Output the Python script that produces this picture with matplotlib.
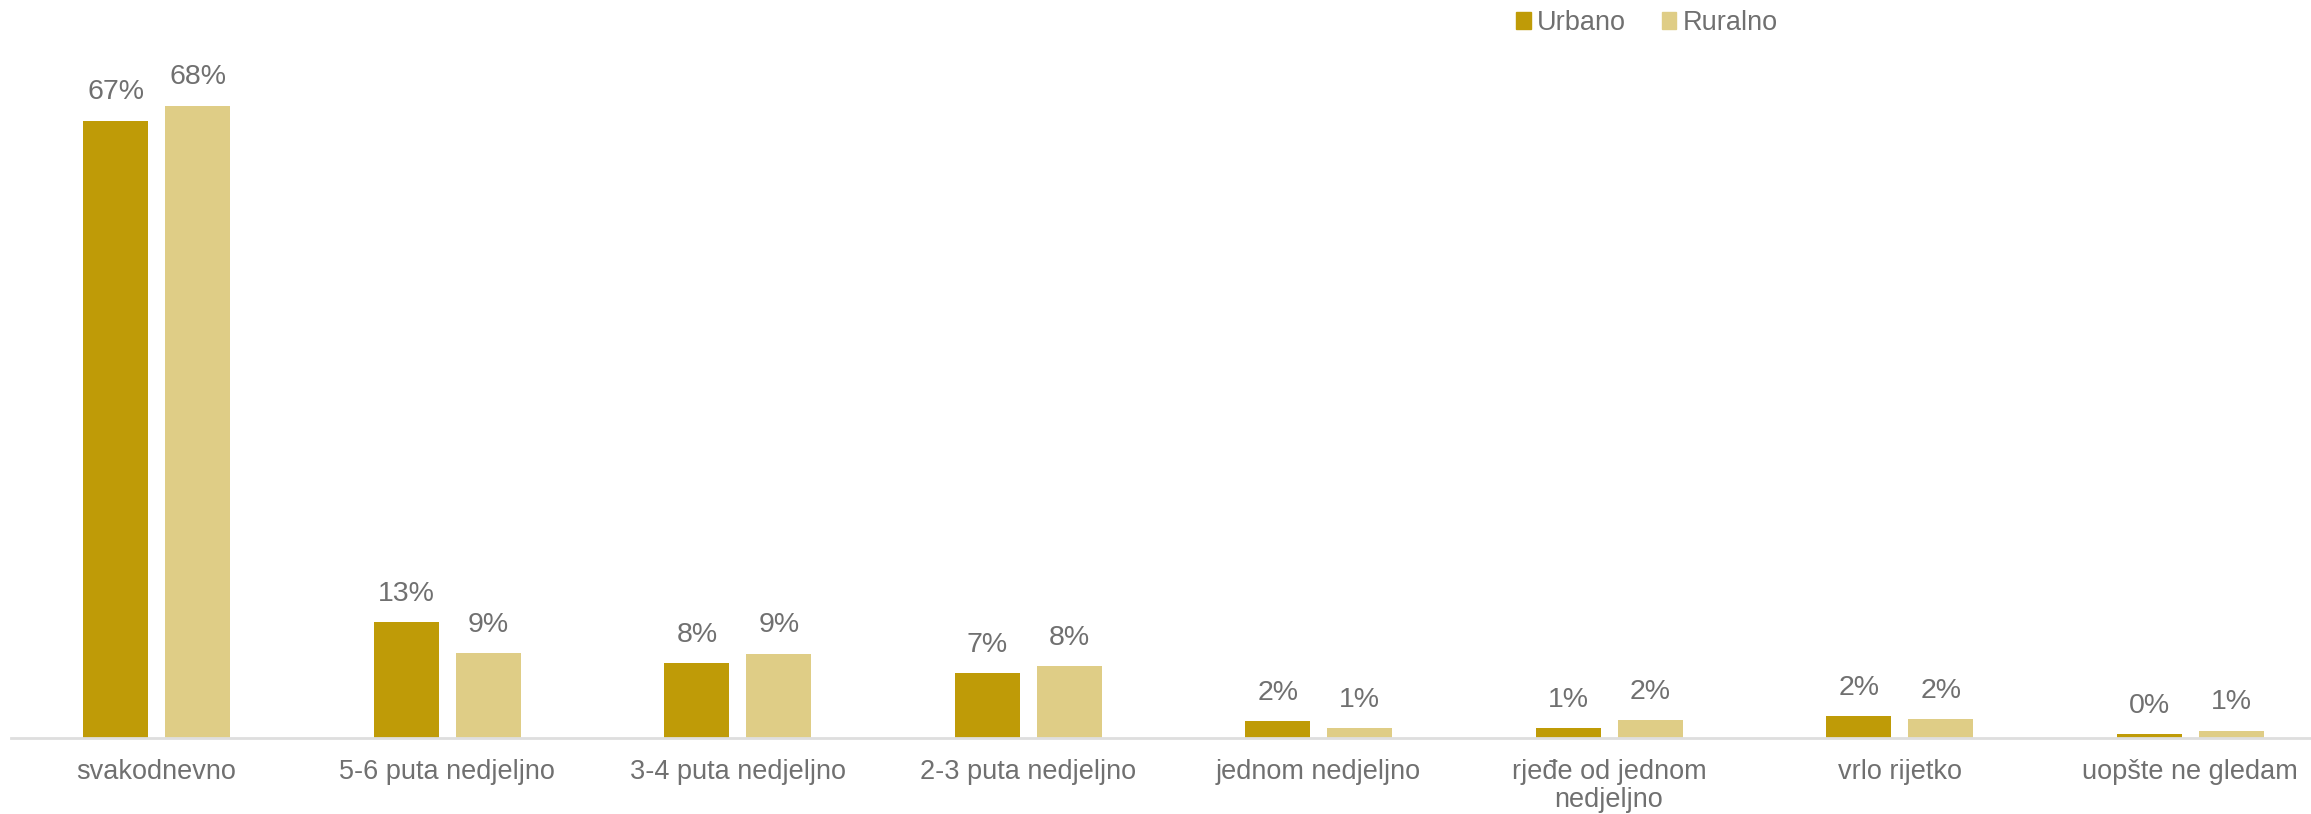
import matplotlib.pyplot as plt
import numpy as np
from matplotlib.patches import Patch

# --- DATA ---
categories = ["svakodnevno", "5-6 puta nedjeljno", "3-4 puta nedjeljno", "2-3 puta nedjeljno",
              "jednom nedjeljno", "rjeđe od jednom\nnedjeljno", "vrlo rijetko", "uopšte ne gledam"]
urbano = [66.7, 12.5, 8.1, 7.0, 1.8, 1.1, 2.4, 0.4]
ruralno = [68.3, 9.2, 9.1, 7.8, 1.1, 1.9, 2.0, 0.8]
urbano_labels = ["67%", "13%", "8%", "7%", "2%", "1%", "2%", "0%"]
ruralno_labels = ["68%", "9%", "9%", "8%", "1%", "2%", "2%", "1%"]

c_urb = "#bf9b07"
c_rur = "#dfcd86"
txt = "#707070"

plt.rcParams['font.family'] = ['Liberation Sans', 'DejaVu Sans']

fig = plt.figure(figsize=(23.11, 8.14), dpi=100)
# axes stretched a little past the right edge like the original
ax = fig.add_axes([0.0049, 1 - 738 / 814, 1.0056, 648 / 814])

x = np.arange(len(categories))
w = 0.224
b1 = ax.bar(x - 0.14, urbano, w, color=c_urb)
b2 = ax.bar(x + 0.142, ruralno, w, color=c_rur)

for bars, labs in ((b1, urbano_labels), (b2, ruralno_labels)):
    for rect, lab in zip(bars, labs):
        ax.annotate(lab, (rect.get_x() + rect.get_width() / 2, rect.get_height()),
                    xytext=(0, 11), textcoords="offset points",
                    ha="center", va="bottom", fontsize=20.5, color=txt)

ax.set_xlim(-0.5, len(categories) - 0.5)
ax.set_ylim(0, 70)
ax.set_xticks(x)
ax.set_xticklabels(categories, fontsize=19.5, color=txt, linespacing=1.1)
ax.tick_params(axis="x", length=0, pad=15)
ax.set_yticks([])
for s in ("top", "right", "left"):
    ax.spines[s].set_visible(False)
ax.spines["bottom"].set_color("#dedede")
ax.spines["bottom"].set_linewidth(2)

handles = [Patch(color=c_urb, label="Urbano"), Patch(color=c_rur, label="Ruralno")]
fig.legend(handles=handles, ncol=2, loc="center", bbox_to_anchor=(1647 / 2311, 1 - 23 / 814),
           frameon=False, fontsize=19.5, labelcolor=txt, handlelength=0.55, handleheight=0.55,
           handletextpad=0.25, columnspacing=1.3)

fig.savefig("out.png", dpi=100)
